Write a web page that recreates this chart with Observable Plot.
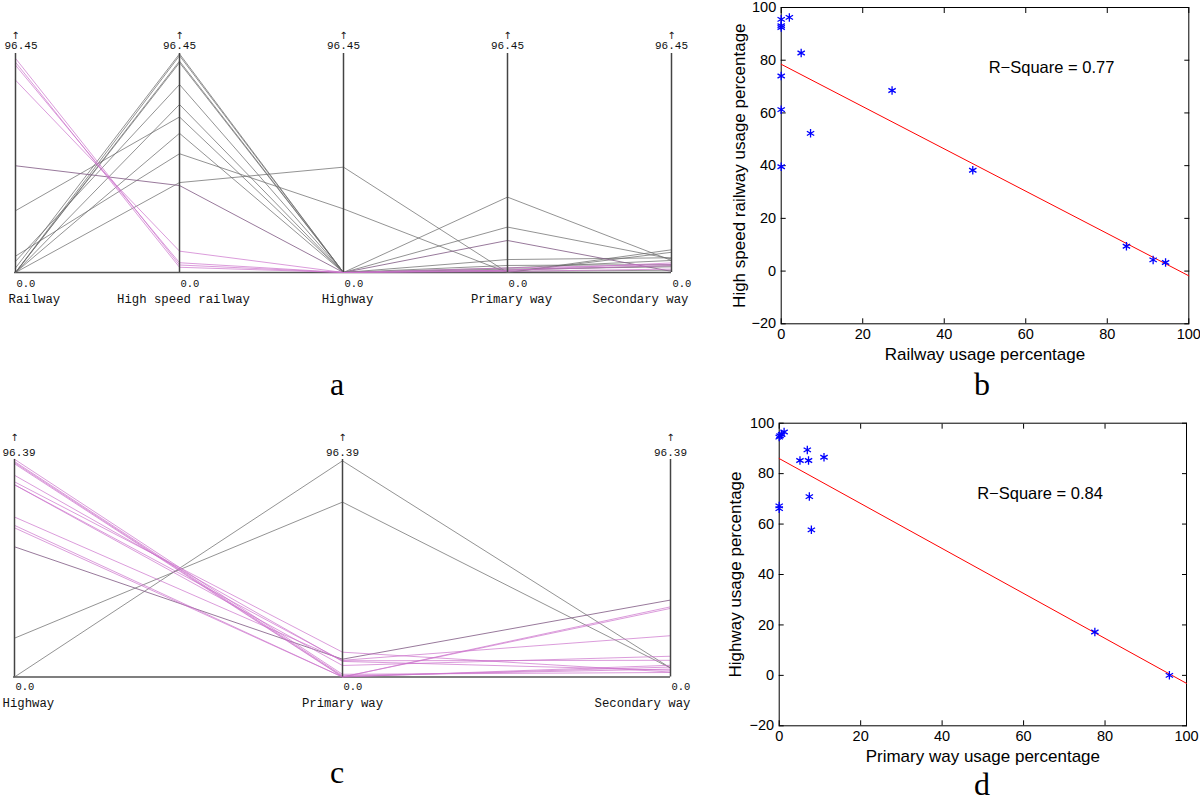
<!DOCTYPE html>
<html><head><meta charset="utf-8">
<script src="https://cdn.jsdelivr.net/npm/d3@7"></script>
<script src="https://cdn.jsdelivr.net/npm/@observablehq/plot@0.6"></script>
<style>
body{margin:0;background:#fff;}
#root{position:relative;width:1200px;height:801px;overflow:hidden;background:#fff;}
.panel{position:absolute;}
.letter{position:absolute;font-family:"Liberation Serif","Times New Roman",serif;font-size:32px;line-height:32px;width:60px;text-align:center;color:#000;}
</style></head><body><div id="root"></div>
<script>
// ---------- Panel a : parallel coordinates (all modes) ----------
const dimsA  = ["Railway", "High speed railway", "Highway", "Primary way", "Secondary way"];
const railA  = [0, 0, 0, 0, 0, 0, 2.0, 4.9, 7.2, 27.2, 47.0, 84.7, 91.3, 94.3, 92.6];
const hsrA   = [95.5, 93.1, 92.4, 74.0, 61.3, 39.6, 96.3, 82.8, 52.3, 68.5, 38.3, 9.4, 4.3, 3.3, 2.3];
const hwyA   = [0, 0, 0, 0, 0, 46.4, 0, 0, 28.0, 0, 0, 0, 0, 0, 0];
const priA   = [1.0, 3.1, 2.0, 20.0, 33.2, 0, 0.5, 5.7, 0, 1.5, 14.1, 2.0, 1.0, 0.5, 1.0];
const secA   = [3.0, 3.5, 5.3, 6.0, 5.3, 10.0, 1.0, 6.5, 8.9, 2.5, 0.5, 3.5, 3.0, 1.5, 4.2];
const groupA = ["other","other","other","other","other","other","other","other","other","other","mixed","main","main","main","main"];
const maxA = 96.45;
const topLabelA = "96.45";

// ---------- Panel c : parallel coordinates (road modes) ----------
const dimsC  = ["Highway", "Primary way", "Secondary way"];
const hwyC   = [96.5, 95.5, 95.0, 94.5, 89.4, 86.5, 85.2, 85.2, 70.9, 67.2, 66.1, 57.7, 17.2, 0];
const priC   = [1.2, 0.6, 0.2, 0, 6.9, 11.0, 5.1, 7.2, 7.4, 0, 0, 7.9, 77.5, 95.8];
const secC   = [2.0, 3.5, 4.4, 5.2, 3.0, 2.2, 9.2, 7.4, 18.3, 31.1, 30.4, 34.1, 4.0, 4.0];
const groupC = ["main","main","main","main","main","main","main","main","main","main","main","mixed","other","other"];
const maxC = 96.39;
const topLabelC = "96.39";
const bottomLabel = "0.0";

// ---------- Panel b : scatter railway vs high speed railway ----------
const railB = [0, 0, 0, 0, 0, 0, 2.0, 4.9, 7.2, 27.2, 47.0, 84.7, 91.25, 94.3];
const hsrB  = [95.5, 93.1, 92.4, 74.0, 61.25, 39.6, 96.25, 82.75, 52.25, 68.5, 38.25, 9.4, 4.25, 3.25];
const xLabelB = "Railway usage percentage";
const yLabelB = "High speed railway usage percentage";
const rsqB = "R\u2212Square = 0.77";

// ---------- Panel d : scatter primary way vs highway (data of panel c) ----------
const xLabelD = "Primary way usage percentage";
const yLabelD = "Highway usage percentage";
const rsqD = "R\u2212Square = 0.84";

const xTicks = [0, 20, 40, 60, 80, 100];
const yTicks = [-20, 0, 20, 40, 60, 80, 100];
const panelLetters = ["a", "b", "c", "d"];

const lineColors = {other: "#6a6a6a", mixed: "#86628a", main: "#cc72cc"};
const lineOpacity = {other: 0.72, mixed: 0.85, main: 0.7};
const order = {other: 0, mixed: 1, main: 2};

const root = document.getElementById("root");
function place(node, left, top, width) {
  const d = document.createElement("div");
  d.className = "panel";
  d.style.left = left + "px"; d.style.top = top + "px"; d.style.width = width + "px";
  d.appendChild(node);
  root.appendChild(d);
}

function parallel(dims, cols, groups, max, topLabel, cfg) {
  const ids = d3.range(groups.length).sort((a, b) => order[groups[a]] - order[groups[b]]);
  const rows = [];
  ids.forEach(i => dims.forEach((dim, j) => rows.push({id: i, dim, value: cols[j][i], group: groups[i]})));
  const first = [dims[0]], last = [dims[dims.length - 1]], mid = dims.slice(1, -1), rest = dims.slice(1);
  const T = {lineAnchor: "middle"};
  return Plot.plot({
    width: cfg.width, height: cfg.height,
    marginLeft: cfg.ml, marginRight: cfg.mr, marginTop: cfg.mt, marginBottom: cfg.mb,
    style: {fontFamily: "Liberation Mono, DejaVu Sans Mono, monospace", fontSize: "12.3px", background: "white", color: "#111", overflow: "visible"},
    x: {type: "point", domain: dims, padding: 0, axis: null},
    y: {domain: [0, max], axis: null},
    color: {type: "identity"},
    marks: [
      Plot.ruleY([0], {stroke: "#555", strokeWidth: 1.3}),
      Plot.line(rows, {x: "dim", y: "value", z: "id", stroke: d => lineColors[d.group],
        strokeOpacity: d => lineOpacity[d.group], strokeWidth: 1}),
      Plot.ruleX(dims, {x: d => d, y1: () => 0, y2: () => max, stroke: "#444", strokeWidth: 1.5}),
      Plot.text(dims, {...T, x: d => d, text: () => "\u2191", frameAnchor: "top", dy: cfg.arrowDy, fontSize: 10, fontFamily: "DejaVu Sans"}),
      Plot.text(first, {...T, x: d => d, text: () => topLabel, frameAnchor: "top", dy: cfg.topDy, dx: cfg.firstTopDx, textAnchor: "start", fontSize: 11}),
      Plot.text(rest, {...T, x: d => d, text: () => topLabel, frameAnchor: "top", dy: cfg.topDy, fontSize: 11}),
      Plot.text(dims, {...T, x: d => d, text: () => bottomLabel, frameAnchor: "bottom", dy: cfg.zeroDy, dx: 1, textAnchor: "start", fontSize: 10.5}),
      Plot.text(first, {...T, x: d => d, text: d => d, frameAnchor: "bottom", dy: cfg.nameDy, dx: cfg.firstDx, textAnchor: "start"}),
      Plot.text(mid, {...T, x: d => d, text: d => d, frameAnchor: "bottom", dy: cfg.nameDy, dx: cfg.midDx}),
      Plot.text(last, {...T, x: d => d, text: d => d, frameAnchor: "bottom", dy: cfg.nameDy, dx: cfg.lastDx, textAnchor: "end"})
    ]
  });
}

function fit(xs, ys) {
  const mx = d3.mean(xs), my = d3.mean(ys);
  const b = d3.sum(xs, (x, i) => (x - mx) * (ys[i] - my)) / d3.sum(xs, x => (x - mx) ** 2);
  return {b, a: my - b * mx};
}

function scatter(xs, ys, xLabel, yLabel, rsq, cfg) {
  const pts = xs.map((x, i) => ({x, y: ys[i]}));
  const {a, b} = fit(xs, ys);
  const xd = d3.extent(xTicks);
  const fitLine = xd.map(x => ({x, y: a + b * x}));
  const fmt = d => d < 0 ? "\u2212" + (-d) : String(d);
  return Plot.plot({
    width: cfg.width, height: cfg.height,
    marginLeft: cfg.ml, marginRight: cfg.mr, marginTop: cfg.mt, marginBottom: cfg.mb,
    style: {fontFamily: "Liberation Sans, Arial, sans-serif", fontSize: "14.5px", background: "white", color: "#000", overflow: "visible"},
    x: {domain: xd}, y: {domain: d3.extent(yTicks)},
    marks: [
      Plot.frame({stroke: "#000", strokeWidth: 1}),
      Plot.axisX(xTicks, {anchor: "bottom", tickSize: -5, tickPadding: 10, tickFormat: fmt, label: null}),
      Plot.axisX(xTicks, {anchor: "top", tickSize: -5, tickFormat: () => "", label: null}),
      Plot.axisY(yTicks, {anchor: "left", tickSize: -5, tickPadding: 10, tickFormat: fmt, label: null}),
      Plot.axisY(yTicks, {anchor: "right", tickSize: -5, tickFormat: () => "", label: null}),
      Plot.line(fitLine, {x: "x", y: "y", stroke: "#ff0000", strokeWidth: 1}),
      Plot.dot(pts, {x: "x", y: "y", symbol: "asterisk", r: 4, stroke: "#0000ff", strokeWidth: 1.3}),
      Plot.text([rsq], {x: () => cfg.rx, y: () => cfg.ry, text: d => d, textAnchor: "start", lineAnchor: "middle", fontSize: 16.5}),
      Plot.text([xLabel], {text: d => d, frameAnchor: "bottom", dy: 31, lineAnchor: "middle", textAnchor: "middle", fontSize: 17}),
      Plot.text([yLabel], {text: d => d, frameAnchor: "left", rotate: -90, dx: cfg.ylDx, textAnchor: "middle", lineAnchor: "middle", fontSize: 17})
    ]
  });
}

place(parallel(dimsA, [railA, hsrA, hwyA, priA, secA], groupA, maxA, topLabelA,
  {width: 700, height: 320, ml: 14, mr: 29, mt: 53, mb: 48, arrowDy: -18, topDy: -8, zeroDy: 11, nameDy: 27, firstTopDx: -11, firstDx: -7, midDx: 4, lastDx: 17}), 0, 0, 700);

place(parallel(dimsC, [hwyC, priC, secC], groupC, maxC, topLabelC,
  {width: 700, height: 320, ml: 13, mr: 30, mt: 59, mb: 43.5, arrowDy: -22, topDy: -7, zeroDy: 10, nameDy: 26, firstTopDx: -12, firstDx: -12, midDx: 0, lastDx: 20}), 0, 400, 700);

place(scatter(railB, hsrB, xLabelB, yLabelB, rsqB,
  {width: 480, height: 400, ml: 60.7, mr: 11.7, mt: 7, mb: 76.7, rx: 50.9, ry: 77.1, ylDx: -42}), 720, 0, 480);

place(scatter(priC, hwyC, xLabelD, yLabelD, rsqD,
  {width: 480, height: 400, ml: 58.7, mr: 14, mt: 22.7, mb: 74.7, rx: 48.6, ry: 72.2, ylDx: -44}), 720, 400, 480);

const letterPos = [[337, 395], [982, 395], [337, 783], [982, 795]];
panelLetters.forEach((t, i) => {
  const d = document.createElement("div");
  d.className = "letter";
  d.textContent = t;
  d.style.left = (letterPos[i][0] - 30) + "px";
  d.style.top = (letterPos[i][1] - 27) + "px";
  root.appendChild(d);
});
</script></body></html>
